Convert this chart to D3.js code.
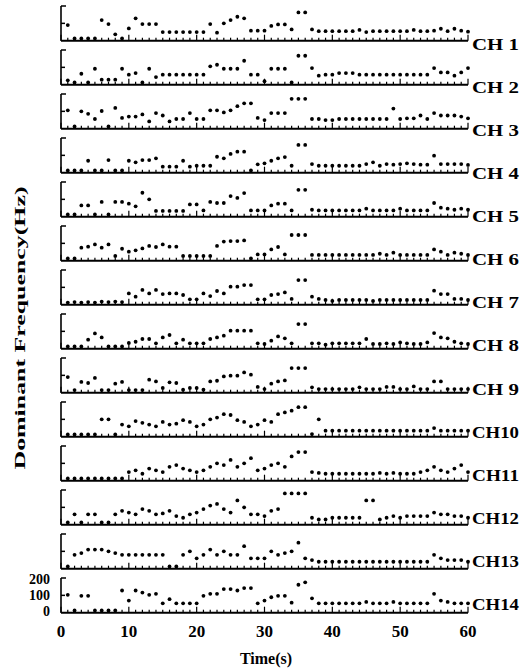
<!DOCTYPE html>
<html>
<head>
<meta charset="utf-8">
<script src="https://cdnjs.cloudflare.com/ajax/libs/d3/7.8.5/d3.min.js"></script>
<style>
  body { margin: 0; background: #fff; }
  text { font-family: "Liberation Serif", "Times New Roman", serif; font-weight: bold; fill: #000; }
</style>
</head>
<body>
<svg id="chart" width="531" height="671"></svg>
<script>
/**************************************** DATOS ****************************************/
// one value per second (t = 1..60), dominant frequency in Hz
var ch1  = [90,13,13,13,13,119,96,37,13,71, 129,96,96,96,50,50,50,50,50,50, 50,96,46,100,119,138,129,58,58,58, 85,94,94,65,163,163,65,55,55,55, 55,55,55,62,50,55,55,55,55,55, 55,62,55,55,58,69,55,69,58,52];
var ch2  = [25,13,63,13,92,29,29,29,92,58, 67,13,92,44,58,58,58,58,58,58, 58,106,115,92,92,92,138,58,58,20, 92,92,92,13,167,167,96,52,58,58, 67,67,67,58,58,58,58,58,58,58, 58,58,58,58,96,71,71,52,71,96];
var ch3  = [106,13,100,86,56,102,13,120,62,70, 70,82,42,90,76,42,56,56,90,56, 56,106,106,94,106,130,146,146,62,50, 90,90,90,172,172,172,56,56,50,50, 56,56,56,56,56,56,56,56,116,56, 60,60,76,56,90,76,76,76,70,60];
var ch4  = [13,13,13,69,13,13,73,13,13,69, 60,73,73,83,35,35,35,69,35,40, 40,40,92,83,108,121,121,13,48,54, 69,83,90,40,160,160,50,40,40,40, 40,40,40,40,50,60,40,50,46,50, 54,50,46,46,98,50,50,50,50,45];
var ch5  = [13,13,65,65,13,85,13,85,85,75, 60,138,100,33,33,33,33,33,71,71, 36,85,79,79,119,108,136,36,36,36, 65,75,75,36,155,155,40,36,36,36, 36,36,36,36,46,36,36,36,36,46, 36,36,36,36,79,52,46,40,46,40];
var ch6  = [13,13,75,81,94,75,94,27,69,52, 60,71,85,79,94,81,81,27,27,27, 27,27,85,110,113,113,117,13,36,36, 65,79,36,148,148,148,33,33,33,33, 33,33,33,33,33,33,40,33,46,33, 33,33,33,33,65,52,33,46,40,33];
var ch7  = [12,15,12,15,12,18,15,18,15,65, 46,85,65,85,61,65,65,56,31,31, 65,50,79,65,104,104,113,113,31,31, 56,61,71,33,142,142,46,33,27,22, 27,27,27,27,27,22,27,27,27,27, 27,27,27,27,81,61,61,33,33,27];
var ch8  = [13,13,13,52,88,65,13,13,13,33, 40,56,56,31,65,79,31,52,31,31, 31,56,65,75,104,104,104,104,31,27, 46,71,60,31,142,142,31,31,23,31, 31,31,31,31,56,27,27,31,27,36, 31,27,27,36,90,65,60,40,31,27];
var ch9  = [90,15,62,56,85,15,15,52,62,15, 15,15,75,65,27,60,56,17,27,27, 17,65,69,94,98,98,117,104,33,21, 52,65,71,142,142,142,31,21,21,21, 21,21,21,31,21,21,21,33,33,21, 21,36,21,21,65,65,21,21,21,21];
var ch10 = [13,13,13,13,13,100,100,13,70,60, 90,80,70,60,85,70,75,95,85,60, 70,100,110,130,125,95,85,60,70,95, 85,130,140,150,170,170,15,100,35,35, 35,35,35,35,35,35,35,35,35,35, 35,35,35,35,50,35,35,35,35,35];
var ch11 = [13,13,13,13,13,13,13,13,13,50, 60,40,70,60,50,80,90,70,60,50, 60,80,100,90,120,80,100,130,60,70, 90,100,80,140,165,165,50,45,40,40, 40,40,40,40,40,40,45,40,45,40, 40,40,50,60,80,60,50,70,90,50];
var ch12 = [13,60,13,60,60,13,13,60,80,70, 60,90,80,60,65,80,50,40,60,70, 90,110,120,90,70,140,100,60,60,50, 80,90,180,180,180,180,40,30,30,40, 40,40,40,40,140,140,30,40,50,40, 50,50,50,50,70,60,60,50,50,40];
var ch13 = [13,80,90,110,110,110,100,90,80,80, 80,80,80,80,80,13,13,80,100,60, 80,110,80,100,80,80,130,60,60,60, 100,80,90,100,150,60,50,40,40,40, 40,40,40,40,40,40,40,40,40,40, 40,40,40,40,80,60,50,50,50,40];
var ch14 = [103,13,97,97,13,13,13,13,128,70, 128,116,103,109,54,78,54,54,54,54, 97,109,109,136,136,128,142,142,54,70, 89,97,97,58,161,175,83,54,54,54, 54,54,54,54,62,54,54,54,62,54, 54,54,54,54,109,70,62,54,54,54];

var channels = [ch1,ch2,ch3,ch4,ch5,ch6,ch7,ch8,ch9,ch10,ch11,ch12,ch13,ch14];
var channelNames = ["CH 1","CH 2","CH 3","CH 4","CH 5","CH 6","CH 7","CH 8","CH 9","CH10","CH11","CH12","CH13","CH14"];
var xTicks = [0,10,20,30,40,50,60];
var yTicks = [0,100,200];

/**************************************** ESCALAS ****************************************/
var svg = d3.select("#chart");
var top0 = 6, step = 44, panelH = 34.7;

var x = d3.scaleLinear().domain([0,60]).range([61,468]);

function yFor(i) {
  var t = top0 + i*step;
  return d3.scaleLinear().domain([0,200]).range([t+panelH, t]);
}

// the channel names and the y labels of the last panel sit on their own grid in the figure
var labelY = d3.scaleLinear().domain([0,13]).range([44,604]);
var yLabelPos = d3.scaleLinear().domain([0,200]).range([611,579]);

/**************************************** PANELES ****************************************/
channels.forEach(function(vals, i) {
  var y = yFor(i);
  var g = svg.append("g").attr("class","panel");
  var base = y(0);

  // eje y: linea vertical y ticks hacia dentro
  g.append("line")
    .attr("x1", x(0)).attr("x2", x(0))
    .attr("y1", y(200)).attr("y2", base)
    .attr("stroke","#000").attr("stroke-width",1.6);
  g.selectAll(".ytick").data([200,100]).enter().append("line")
    .attr("x1", x(0)).attr("x2", function(d){ return x(0) + (d==200 ? 5 : 4); })
    .attr("y1", function(d){ return y(d); }).attr("y2", function(d){ return y(d); })
    .attr("stroke","#000").attr("stroke-width",1.5);

  // eje x: base gruesa con ticks de 1 s
  g.append("line")
    .attr("x1", x(0)).attr("x2", x(60))
    .attr("y1", base).attr("y2", base)
    .attr("stroke","#000").attr("stroke-width",2);
  g.selectAll(".xtick").data(d3.range(0,61)).enter().append("line")
    .attr("x1", function(d){ return x(d); }).attr("x2", function(d){ return x(d); })
    .attr("y1", base).attr("y2", function(d){ return base - (d%10==0 ? 6 : 3); })
    .attr("stroke","#000").attr("stroke-width",1.2);

  // puntos
  g.selectAll("circle").data(vals).enter().append("circle")
    .attr("cx", function(d,k){ return x(k+1); })
    .attr("cy", function(d){ return y(d); })
    .attr("r", 1.9)
    .attr("fill","#000");

  // etiqueta del canal
  g.append("text")
    .attr("x", 472).attr("y", labelY(i))
    .attr("dy", "0.35em")
    .attr("textLength", 47)
    .attr("lengthAdjust", "spacingAndGlyphs")
    .style("font-size","17px")
    .text(channelNames[i]);

  // ticks del eje y solo en el ultimo panel
  if (i == channels.length-1) {
    g.selectAll(".ylab").data(yTicks).enter().append("text")
      .attr("x", 50)
      .attr("y", function(d){ return yLabelPos(d); })
      .attr("dy", "0.35em")
      .attr("text-anchor","end")
      .style("font-size","14px")
      .text(function(d){ return d; });
  }
});

/**************************************** TITULOS ****************************************/
svg.selectAll(".xlab").data(xTicks).enter().append("text")
  .attr("x", function(d){ return x(d); })
  .attr("y", 637)
  .attr("text-anchor","middle")
  .style("font-size","17px")
  .text(function(d){ return d; });

svg.append("text")
  .attr("x", 266).attr("y", 664)
  .attr("text-anchor","middle")
  .style("font-size","16px")
  .text("Time(s)");

svg.append("text")
  .attr("transform","translate(25,328) rotate(-90)")
  .attr("text-anchor","middle")
  .attr("textLength", 283)
  .attr("lengthAdjust", "spacingAndGlyphs")
  .style("font-size","15px")
  .text("Dominant Frequency(Hz)");
</script>
</body>
</html>
